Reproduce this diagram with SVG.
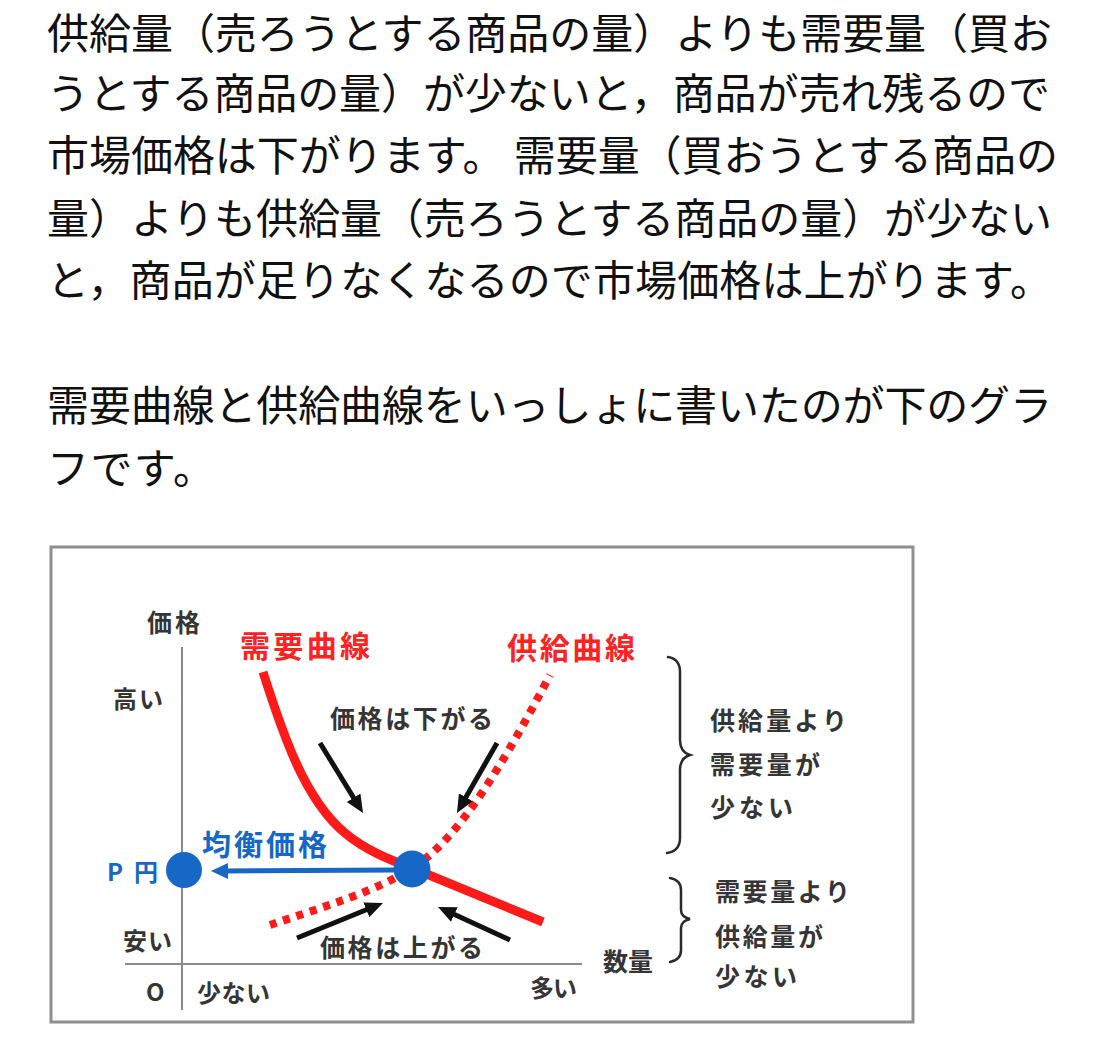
<svg xmlns="http://www.w3.org/2000/svg" width="1119" height="1058" viewBox="0 0 1119 1058">
<style>
.body{font-family:"Noto Sans CJK JP","Noto Sans CJK SC",sans-serif;font-size:42px;fill:#111;}
.g{font-family:"Noto Sans CJK JP","Noto Sans CJK SC",sans-serif;font-weight:700;fill:#353535;}
.red{fill:#ff2222;}
.blue{fill:#1668c4;}
.axis{stroke:#8a8a8a;stroke-width:2;fill:none;}
.brace{stroke:#2a2a2a;stroke-width:2.5;fill:none;stroke-linecap:round;}
.arr{stroke:#111;stroke-width:5;fill:none;}
</style>
<defs>
<marker id="ah" markerUnits="userSpaceOnUse" markerWidth="20" markerHeight="18" refX="4" refY="8" orient="auto">
<path d="M0,0 L18,8 L0,16 z" fill="#111"/>
</marker>
<marker id="ahb" markerUnits="userSpaceOnUse" markerWidth="20" markerHeight="18" refX="4" refY="8" orient="auto">
<path d="M0,0 L17,8 L0,16 z" fill="#1668c4"/>
</marker>
</defs>
<rect width="1119" height="1058" fill="#fff"/>

<g id="paragraph1" class="body">
<text x="47" y="48.8" textLength="1005" lengthAdjust="spacing">供給量（売ろうとする商品の量）よりも需要量（買お</text>
<text x="47" y="108.5" textLength="1003" lengthAdjust="spacing">うとする商品の量）が少ないと，商品が売れ残るので</text>
<text x="47" y="171" textLength="1011" lengthAdjust="spacing">市場価格は下がります。 需要量（買おうとする商品の</text>
<text x="47" y="233.5" textLength="1005" lengthAdjust="spacing">量）よりも供給量（売ろうとする商品の量）が少ない</text>
<text x="47" y="296" textLength="1005" lengthAdjust="spacing">と，商品が足りなくなるので市場価格は上がります。</text>
</g>
<g id="paragraph2" class="body">
<text x="47" y="421" textLength="1005" lengthAdjust="spacing">需要曲線と供給曲線をいっしょに書いたのが下のグラ</text>
<text x="47" y="483.5" textLength="168" lengthAdjust="spacing">フです。</text>
</g>

<g id="frame">
<rect x="51" y="547" width="862" height="475" fill="#fff" stroke="#8f8f8f" stroke-width="3"/>
</g>

<g id="axes">
<line class="axis" x1="182" y1="647" x2="182" y2="1010"/>
<line class="axis" x1="125" y1="964" x2="582" y2="964"/>
<text class="g" x="147" y="631.5" font-size="25" textLength="53" lengthAdjust="spacing">価格</text>
<text class="g" x="113" y="707.5" font-size="24" textLength="50" lengthAdjust="spacing">高い</text>
<text class="g" x="123" y="949.5" font-size="24" textLength="49" lengthAdjust="spacing">安い</text>
<text class="g" x="146" y="1001" font-size="24">O</text>
<text class="g" x="197" y="1002" font-size="24" textLength="73" lengthAdjust="spacing">少ない</text>
<text class="g" x="530" y="997" font-size="24" textLength="47" lengthAdjust="spacing">多い</text>
<text class="g" x="603" y="971" font-size="25" textLength="50" lengthAdjust="spacing">数量</text>
</g>

<g id="demand-curve">
<path d="M263,672 C283,735 305,800 345,833 C365,850 390,860 412,868 L543,922" fill="none" stroke="#ff1a1a" stroke-width="9" stroke-linecap="butt"/>
<text class="g red" x="240" y="656.5" font-size="30" textLength="130" lengthAdjust="spacing">需要曲線</text>
</g>

<g id="supply-curve">
<path d="M270,925 C320,908 380,890 412,868 C450,845 490,790 550,675" fill="none" stroke="#ff1a1a" stroke-width="8" stroke-dasharray="7 7"/>
<text class="g red" x="507" y="658.5" font-size="30" textLength="128" lengthAdjust="spacing">供給曲線</text>
</g>

<g id="connectors">
<line class="arr" x1="320" y1="743" x2="355.7" y2="801.1" marker-end="url(#ah)"/>
<line class="arr" x1="497" y1="743" x2="463.9" y2="800.8" marker-end="url(#ah)"/>
<line class="arr" x1="297" y1="938" x2="370" y2="908.3" marker-end="url(#ah)"/>
<line class="arr" x1="510" y1="940" x2="450.7" y2="912.8" marker-end="url(#ah)"/>
<line x1="395" y1="870" x2="224" y2="871" stroke="#1668c4" stroke-width="5" marker-end="url(#ahb)"/>
</g>

<g id="equilibrium">
<circle cx="412" cy="869" r="18.5" fill="#1668c4"/>
</g>

<g id="price-point">
<circle cx="184" cy="870" r="18" fill="#1668c4"/>
<text class="g blue" x="107" y="881" font-size="24" textLength="51" lengthAdjust="spacing">P円</text>
<text class="g blue" x="202" y="856" font-size="29" textLength="125" lengthAdjust="spacing">均衡価格</text>
</g>

<g id="label-down">
<text class="g" x="330" y="728" font-size="25" textLength="163" lengthAdjust="spacing">価格は下がる</text>
</g>
<g id="label-up">
<text class="g" x="320" y="957" font-size="25" textLength="163" lengthAdjust="spacing">価格は上がる</text>
</g>

<g id="brace-upper">
<path class="brace" d="M668,657 Q680,659 680,672 L680,740 Q680,752 690,755 Q680,758 680,770 L680,838 Q680,851 667,853"/>
<text class="g" x="710" y="730" font-size="25" textLength="137" lengthAdjust="spacing">供給量より</text>
<text class="g" x="710" y="774" font-size="25" textLength="110" lengthAdjust="spacing">需要量が</text>
<text class="g" x="710" y="817" font-size="25" textLength="83" lengthAdjust="spacing">少ない</text>
</g>

<g id="brace-lower">
<path class="brace" d="M670,878 Q681,880 681,890 L681,910 Q681,917 690,919 Q681,921 681,928 L681,950 Q681,960 670,962"/>
<text class="g" x="715" y="901" font-size="25" textLength="135" lengthAdjust="spacing">需要量より</text>
<text class="g" x="715" y="946" font-size="25" textLength="108" lengthAdjust="spacing">供給量が</text>
<text class="g" x="715" y="986" font-size="25" textLength="82" lengthAdjust="spacing">少ない</text>
</g>
</svg>
